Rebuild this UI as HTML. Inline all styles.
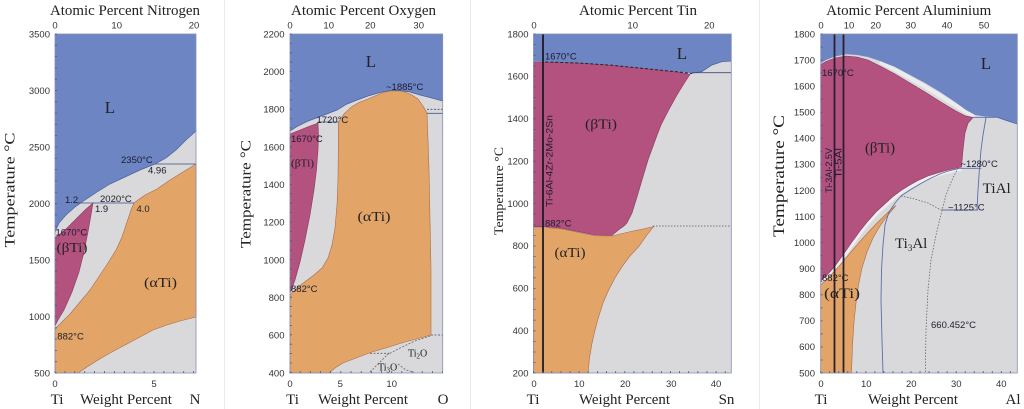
<!DOCTYPE html>
<html><head><meta charset="utf-8"><style>
html,body{margin:0;padding:0;background:#fff;}
svg{display:block;}
.tk{font-family:"Liberation Sans",Arial,sans-serif;font-size:9.5px;fill:#333;}
.an{font-family:"Liberation Sans",Arial,sans-serif;font-size:9.5px;fill:#1c1c30;}
.sf{font-family:"Liberation Serif","Times New Roman",serif;fill:#222;}
</style></head><body>
<svg width="1024" height="409" viewBox="0 0 1024 409" xmlns="http://www.w3.org/2000/svg">
<rect width="1024" height="409" fill="#fff"/>
<line x1="224.5" y1="0" x2="224.5" y2="409" stroke="#ebebeb" stroke-width="1"/>
<line x1="470.5" y1="0" x2="470.5" y2="409" stroke="#ebebeb" stroke-width="1"/>
<line x1="759.5" y1="0" x2="759.5" y2="409" stroke="#ebebeb" stroke-width="1"/>

<!-- ================= PANEL 1: Ti-N ================= -->
<rect x="55" y="34" width="141" height="339" fill="#d9d9db"/>
<polygon fill="#e3a567" stroke="#a86a50" stroke-width="0.6" points="55,329 62,322 70,314 80,302 90,290 100,275 108,263 116,250 122,237 127,222 131,210 134,203 145,195 157,189 170,180 183,172 196,164 196,317 180,321 167,325 153,330 140,337 125,345 110,353 98,360 87,367 78,373 55,373"/>
<polygon fill="#b3517f" stroke="#8a3a60" stroke-width="0.6" points="55,238 60,234 66,229 72,223 78,217 85,210 93,203 91,215 88,232 84,252 79,272 72,292 64,310 58,320 55,326"/>
<polygon fill="#6e85c3" points="55,34 196,34 196,131 186,140 176,150 166,158 155,164 140,170 125,177 110,184 97,192 85,200 75,207 66,215 59,223 55,232"/>
<polyline fill="none" stroke="#4d5f9a" stroke-width="0.7" points="196,131 186,140 176,150 166,158 155,164 140,170 125,177 110,184 97,192 85,200 75,207 66,215 59,223 55,232"/>
<line x1="77" y1="203" x2="134" y2="203" stroke="#3d4d80" stroke-width="0.8"/>
<line x1="155" y1="164" x2="196" y2="164" stroke="#3d4d80" stroke-width="0.8"/>
<rect x="55" y="34" width="141" height="339" fill="none" stroke="#8591b5" stroke-width="0.8"/>
<line x1="56" y1="33.6" x2="56" y2="373.5" stroke="#4a5890" stroke-width="2" stroke-dasharray="0.8 10.5"/>
<line x1="54.6" y1="372" x2="196" y2="372" stroke="#4a5890" stroke-width="2" stroke-dasharray="0.8 9.1"/>
<g class="tk" text-anchor="end">
<text x="50" y="37.3">3500</text><text x="50" y="93.8">3000</text><text x="50" y="150.3">2500</text><text x="50" y="206.8">2000</text><text x="50" y="263.3">1500</text><text x="50" y="319.8">1000</text><text x="50" y="376.3">500</text>
</g>
<g class="tk" text-anchor="middle">
<text x="55" y="28.5">0</text><text x="116.7" y="28.5">10</text><text x="194" y="28.5">20</text>
<text x="55" y="387">0</text><text x="154" y="387">5</text>
</g>
<text class="sf" x="125" y="15" font-size="15" text-anchor="middle" textLength="150" lengthAdjust="spacingAndGlyphs">Atomic Percent Nitrogen</text>
<text class="sf" font-size="15" transform="translate(14.5,190) rotate(-90)" text-anchor="middle" textLength="115" lengthAdjust="spacingAndGlyphs">Temperature °C</text>
<text class="sf" x="57" y="404" font-size="15" text-anchor="middle">Ti</text>
<text class="sf" x="126" y="404" font-size="15" text-anchor="middle" textLength="92" lengthAdjust="spacingAndGlyphs">Weight Percent</text>
<text class="sf" x="195" y="404" font-size="15" text-anchor="middle">N</text>
<text class="sf" x="110" y="113" font-size="17" text-anchor="middle">L</text>
<text class="sf" x="72" y="252" font-size="14" text-anchor="middle" textLength="31" lengthAdjust="spacingAndGlyphs">(βTi)</text>
<text class="sf" x="160.5" y="287" font-size="14" text-anchor="middle" textLength="33" lengthAdjust="spacingAndGlyphs">(αTi)</text>
<g class="an">
<text x="121" y="163">2350°C</text><text x="148" y="173.5">4.96</text>
<text x="65" y="203">1.2</text><text x="100" y="202">2020°C</text>
<text x="95" y="212">1.9</text><text x="136.5" y="212">4.0</text>
<text x="55.5" y="235.5">1670°C</text><text x="57.3" y="339.5">882°C</text>
</g>

<!-- ================= PANEL 2: Ti-O ================= -->
<rect x="290" y="34" width="152.7" height="339" fill="#d9d9db"/>
<polygon fill="#e3a567" stroke="#a86a50" stroke-width="0.6" points="290,295 298,287 306,281 314,275 322,268 328,258 332,245 335,228 337,205 338,180 338.3,150 338.3,122 344,114 351.7,106.7 359,102.5 366.7,99.5 375,96 383,92.5 391,91 398,90.8 404,91.5 412,95 418,99 423,106 427,113 428,140 429,170 430,220 431,270 431,335 420,338 405,342 389,347 372,352 356,358 343,363 335,368 329,373 290,373"/>
<polygon fill="#b3517f" stroke="#8a3a60" stroke-width="0.6" points="290,134 300,130 310,126 318,123 318.5,135 318,150 316.5,170 314,190 310,215 305,240 300,262 295,280 290,293"/>
<polygon fill="#6e85c3" points="290,34 442.7,34 442.7,101 430,97.5 420,95 410,92 400,90.5 390,90.5 380,92.5 368,96 357,100 347,104 337,110 328,113.5 320,116.5 307,121.5 298,126 290,131"/>
<polyline fill="none" stroke="#4d5f9a" stroke-width="0.7" points="442.7,101 430,97.5 420,95 410,92 400,90.5 390,90.5 380,92.5 368,96 357,100 347,104 337,110 328,113.5 320,116.5 307,121.5 298,126 290,131"/>
<line x1="318" y1="122" x2="338.5" y2="122" stroke="#3d4d80" stroke-width="0.8"/>
<line x1="427" y1="109.3" x2="442.7" y2="109.3" stroke="#3d4d80" stroke-width="0.8" stroke-dasharray="2 1.5"/>
<line x1="427" y1="113.3" x2="442.7" y2="113.3" stroke="#3d4d80" stroke-width="0.8"/>
<line x1="431" y1="335" x2="442.7" y2="335" stroke="#3d4d80" stroke-width="0.8" stroke-dasharray="2 1.5"/>
<g fill="none" stroke="#666" stroke-width="0.8" stroke-dasharray="2 1.5">
<polyline points="370,353.3 390,353.3"/>
<polyline points="386.7,355 400,348 415,341 430,336"/>
<polyline points="370,372 378,364 387,355"/>
<polyline points="398,364 406,370 414,372"/>
</g>
<rect x="290" y="34" width="152.7" height="339" fill="none" stroke="#8591b5" stroke-width="0.8"/>
<line x1="291" y1="33.6" x2="291" y2="373.5" stroke="#4a5890" stroke-width="2" stroke-dasharray="0.8 8.6"/>
<line x1="289.6" y1="372" x2="442.7" y2="372" stroke="#4a5890" stroke-width="2" stroke-dasharray="0.8 9.37"/>
<g class="tk" text-anchor="end">
<text x="284.5" y="37.3">2200</text><text x="284.5" y="75">2000</text><text x="284.5" y="112.6">1800</text><text x="284.5" y="150.3">1600</text><text x="284.5" y="188">1400</text><text x="284.5" y="225.6">1200</text><text x="284.5" y="263.3">1000</text><text x="284.5" y="301">800</text><text x="284.5" y="338.6">600</text><text x="284.5" y="376.3">400</text>
</g>
<g class="tk" text-anchor="middle">
<text x="290" y="28.5">0</text><text x="328.7" y="28.5">10</text><text x="370.3" y="28.5">20</text><text x="418.7" y="28.5">30</text>
<text x="290" y="387">0</text><text x="340.3" y="387">5</text><text x="391.7" y="387">10</text>
</g>
<text class="sf" x="363.5" y="15" font-size="15" text-anchor="middle" textLength="145" lengthAdjust="spacingAndGlyphs">Atomic Percent Oxygen</text>
<text class="sf" font-size="15" transform="translate(250.5,194) rotate(-90)" text-anchor="middle" textLength="108" lengthAdjust="spacingAndGlyphs">Temperature °C</text>
<text class="sf" x="292.5" y="404" font-size="15" text-anchor="middle">Ti</text>
<text class="sf" x="363" y="404" font-size="15" text-anchor="middle" textLength="90" lengthAdjust="spacingAndGlyphs">Weight Percent</text>
<text class="sf" x="443" y="404" font-size="15" text-anchor="middle">O</text>
<text class="sf" x="371" y="67" font-size="17" text-anchor="middle">L</text>
<text class="sf" x="291" y="166.5" font-size="10" textLength="23" lengthAdjust="spacingAndGlyphs">(βTi)</text>
<text class="sf" x="374" y="221" font-size="14" text-anchor="middle" textLength="33" lengthAdjust="spacingAndGlyphs">(αTi)</text>
<text class="sf" x="408" y="356.5" font-size="10">Ti<tspan font-size="7" dy="2">2</tspan><tspan dy="-2">O</tspan></text>
<text class="sf" x="378" y="370.5" font-size="10">Ti<tspan font-size="7" dy="2">3</tspan><tspan dy="-2">O</tspan></text>
<g class="an">
<text x="386" y="90">~1885°C</text>
<text x="316.5" y="123">1720°C</text>
<text x="291" y="142">1670°C</text>
<text x="291" y="292">882°C</text>
</g>

<!-- ================= PANEL 3: Ti-Sn ================= -->
<rect x="533.5" y="34" width="197.8" height="339" fill="#d9d9db"/>
<polygon fill="#e3a567" stroke="#a86a50" stroke-width="0.6" points="533.5,227.5 545.3,227.5 562,229 578.7,232.5 595.3,235.8 612,236 628.7,232 645.3,228.5 653.7,226.5 647,235 638.7,246.7 630,256 622,266.7 615,278 608.7,290 603,303 598.7,316.7 595,330 592,343.3 589.5,358 588,373 533.5,373"/>
<polygon fill="#b3517f" stroke="#8a3a60" stroke-width="0.6" points="533.5,62 545,62 578.7,63 612,65.3 645.3,68.6 678.7,72 690,74.5 685,82 677,95 668.7,110 661,125 655.3,140 648,160 642,180 637,197 632,213 627,223 624,226 619,229.5 612,235.3 595.3,235 578.7,231.7 562,228.3 545.3,226.7 533.5,226.7"/>
<polygon fill="#6e85c3" points="533.5,34 731.3,34 731.3,61 722,61.7 712,65 702,71.5 692,73.3 678.7,71.7 645.3,68.3 612,65 578.7,62.7 545.3,61.7 533.5,61.5"/>
<polyline fill="none" stroke="#222" stroke-width="1" stroke-dasharray="3 2" points="545.3,62 578.7,63 612,65.3 645.3,68.6 678.7,72 692,73.5"/>
<polyline fill="none" stroke="#4d5f9a" stroke-width="0.7" points="692,73.3 702,71.5 712,65 722,61.7 731.3,61"/>
<line x1="692" y1="72.7" x2="731.3" y2="72.7" stroke="#3d4d80" stroke-width="0.8"/>
<line x1="653" y1="226" x2="731.3" y2="226" stroke="#555" stroke-width="0.8" stroke-dasharray="1.5 1.5"/>
<line x1="543" y1="34" x2="543" y2="373" stroke="#1e1a24" stroke-width="1.8"/>
<rect x="533.5" y="34" width="197.8" height="339" fill="none" stroke="#8591b5" stroke-width="0.8"/>
<line x1="534.5" y1="33.6" x2="534.5" y2="373.5" stroke="#4a5890" stroke-width="2" stroke-dasharray="0.8 9.8"/>
<line x1="533.1" y1="372" x2="731.3" y2="372" stroke="#4a5890" stroke-width="2" stroke-dasharray="0.8 8.33"/>
<g class="tk" text-anchor="end">
<text x="528.5" y="37.3">1800</text><text x="528.5" y="79.7">1600</text><text x="528.5" y="122">1400</text><text x="528.5" y="164.4">1200</text><text x="528.5" y="206.8">1000</text><text x="528.5" y="249.2">800</text><text x="528.5" y="291.5">600</text><text x="528.5" y="333.9">400</text><text x="528.5" y="376.3">200</text>
</g>
<g class="tk" text-anchor="middle">
<text x="534" y="28.5">0</text><text x="632.7" y="28.5">10</text><text x="709.3" y="28.5">20</text>
<text x="534" y="387">0</text><text x="579.3" y="387">10</text><text x="625.3" y="387">20</text><text x="671.3" y="387">30</text><text x="716" y="387">40</text>
</g>
<text class="sf" x="638" y="15" font-size="15" text-anchor="middle" textLength="118" lengthAdjust="spacingAndGlyphs">Atomic Percent Tin</text>
<text class="sf" font-size="13" transform="translate(503,191) rotate(-90)" text-anchor="middle" textLength="88" lengthAdjust="spacingAndGlyphs">Temperature °C</text>
<text class="sf" x="533" y="404" font-size="15" text-anchor="middle">Ti</text>
<text class="sf" x="624.5" y="404" font-size="15" text-anchor="middle" textLength="91" lengthAdjust="spacingAndGlyphs">Weight Percent</text>
<text class="sf" x="726.5" y="404" font-size="15" text-anchor="middle">Sn</text>
<text class="sf" x="682" y="59" font-size="17" text-anchor="middle">L</text>
<text class="sf" x="601" y="128.5" font-size="14" text-anchor="middle" textLength="32" lengthAdjust="spacingAndGlyphs">(βTi)</text>
<text class="sf" x="570" y="257" font-size="14" text-anchor="middle" textLength="31" lengthAdjust="spacingAndGlyphs">(αTi)</text>
<g class="an">
<text x="545" y="59.5">1670°C</text>
<text x="545" y="226.5">882°C</text>
</g>
<text class="an" font-size="9" transform="translate(552.5,161) rotate(-90)" text-anchor="middle" textLength="92" lengthAdjust="spacingAndGlyphs">Ti-6Al-4Zr-2Mo-2Sn</text>

<!-- ================= PANEL 4: Ti-Al ================= -->
<rect x="820.7" y="34" width="196.6" height="339" fill="#d9d9db"/>
<polyline fill="none" stroke="#ececee" stroke-width="4" points="880,62 895,69.5 910,78 925,86.5 940,95.5 955,105 966,112 975,116"/>
<polyline fill="none" stroke="#eeeef0" stroke-width="5" points="961.5,168 950,170.5 941.3,172.8 928,177 918,181.5 909,186.5 901,191.5 893,197.5 884.7,205 876,213 868,222 860,232 851.3,244 843,256 834.7,267.5 827,276 820.7,282"/>
<polygon fill="#e3a567" stroke="#a86a50" stroke-width="0.6" points="820.7,285 827,279 834.7,271 843,261.5 851.3,251.5 860,241.5 868,232.5 876,224 884.7,215.5 891,209.5 896,205.5 888,215 880,226 873,238 867,252 862,268 858.5,285 856,303 854,322 852.5,345 851.5,373 820.7,373"/>
<polygon fill="#b3517f" stroke="#8a3a60" stroke-width="0.6" points="820.7,64.5 826,61.5 835,58 846,56 857,57 868,60 880,66 895,74 910,83 925,92 940,101.5 955,110.5 965,115.8 973,117.5 968,123.3 965,133 963,150 961.5,167 950,169.5 941.3,171.8 928,176 918,180.5 909,185.5 901,190.5 893,196.5 884.7,204 876,212 868,221 860,231 851.3,243 843,255 834.7,266.5 827,275 820.7,281"/>
<polygon fill="#6e85c3" points="820.7,34 1017.3,34 1017.3,124 1005,120 998,117.5 985,116.5 975,115 966,110 955,102 940,92 925,83 910,75 895,67 880,61 868,57 857,55 846,54.3 835,56.5 826,60 820.7,63"/>
<polyline fill="none" stroke="#4d5f9a" stroke-width="0.7" points="1017.3,124 1005,120 998,117.5"/>
<g fill="none" stroke="#5a6fa8" stroke-width="0.9">
<polyline points="901,196 895,203 889,212 885,225 883,245 881.5,270 881,300 882,340 883,373"/>
<polyline points="901,196 910,190 920,184 930,178.5 941,173.5 950,170.5 959.7,168.3"/>
<line x1="959.7" y1="168.3" x2="981.3" y2="168.3"/>
<polyline points="986,117.5 983,135 981,150 979.5,168 978,190 977,210"/>
<line x1="941.3" y1="210" x2="978" y2="210"/>
<line x1="973" y1="117.3" x2="998" y2="117.3"/>
</g>
<g fill="none" stroke="#666" stroke-width="0.8" stroke-dasharray="1.5 1.5">
<polyline points="901,196 915,199 928,203 941,210"/>
<polyline points="958,168 952,180 946,195 941.3,213 936,235 931,260 928,290 926,330 925.3,373"/>
</g>
<line x1="834.5" y1="34" x2="834.5" y2="373" stroke="#2a2030" stroke-width="1.8"/>
<line x1="843.5" y1="34" x2="843.5" y2="373" stroke="#2a2030" stroke-width="1.8"/>
<rect x="820.7" y="34" width="196.6" height="339" fill="none" stroke="#8591b5" stroke-width="0.8"/>
<line x1="821.7" y1="33.6" x2="821.7" y2="373.5" stroke="#4a5890" stroke-width="2" stroke-dasharray="0.8 12.24"/>
<line x1="820.3" y1="372" x2="1017.3" y2="372" stroke="#4a5890" stroke-width="2" stroke-dasharray="0.8 8.23"/>
<g class="tk" text-anchor="end">
<text x="815" y="37.3">1800</text><text x="815" y="63.4">1700</text><text x="815" y="89.5">1600</text><text x="815" y="115.5">1500</text><text x="815" y="141.6">1400</text><text x="815" y="167.7">1300</text><text x="815" y="193.8">1200</text><text x="815" y="219.8">1100</text><text x="815" y="245.9">1000</text><text x="815" y="272">900</text><text x="815" y="298.1">800</text><text x="815" y="324.1">700</text><text x="815" y="350.2">600</text><text x="815" y="376.3">500</text>
</g>
<g class="tk" text-anchor="middle">
<text x="821" y="28.5">0</text><text x="849" y="28.5">10</text><text x="875.7" y="28.5">20</text><text x="910.7" y="28.5">30</text><text x="947" y="28.5">40</text><text x="984" y="28.5">50</text>
<text x="821" y="387">0</text><text x="866.3" y="387">10</text><text x="911.3" y="387">20</text><text x="956.3" y="387">30</text><text x="1001.3" y="387">40</text>
</g>
<text class="sf" x="908.7" y="15" font-size="15" text-anchor="middle" textLength="165" lengthAdjust="spacingAndGlyphs">Atomic Percent Aluminium</text>
<text class="sf" font-size="16" transform="translate(784,176) rotate(-90)" text-anchor="middle" textLength="122" lengthAdjust="spacingAndGlyphs">Temperature °C</text>
<text class="sf" x="821" y="404" font-size="15" text-anchor="middle">Ti</text>
<text class="sf" x="913" y="404" font-size="15" text-anchor="middle" textLength="90" lengthAdjust="spacingAndGlyphs">Weight Percent</text>
<text class="sf" x="1013" y="404" font-size="15" text-anchor="middle">Al</text>
<text class="sf" x="986" y="69" font-size="17" text-anchor="middle">L</text>
<text class="sf" x="880" y="152.5" font-size="15" text-anchor="middle" textLength="30" lengthAdjust="spacingAndGlyphs">(βTi)</text>
<text class="sf" x="842" y="298" font-size="15" text-anchor="middle" textLength="36" lengthAdjust="spacingAndGlyphs">(αTi)</text>
<text class="sf" x="996.7" y="193" font-size="15" text-anchor="middle" textLength="28" lengthAdjust="spacingAndGlyphs">TiAl</text>
<text class="sf" x="895" y="248" font-size="15">Ti<tspan font-size="9" dy="3">3</tspan><tspan dy="-3">Al</tspan></text>
<g class="an">
<text x="822" y="76">1670°C</text>
<text x="960.5" y="167">~1280°C</text>
<text x="948" y="210.5">~1125°C</text>
<text x="822" y="281">882°C</text>
<text x="931" y="328">660.452°C</text>
</g>
<text class="an" font-size="9" transform="translate(832,148) rotate(-90)" text-anchor="end" textLength="45" lengthAdjust="spacingAndGlyphs">Ti-3Al-2.5V</text>
<text class="an" font-size="9" transform="translate(841.5,148) rotate(-90)" text-anchor="end" textLength="30" lengthAdjust="spacingAndGlyphs">Ti-5Al</text>
</svg>
</body></html>
